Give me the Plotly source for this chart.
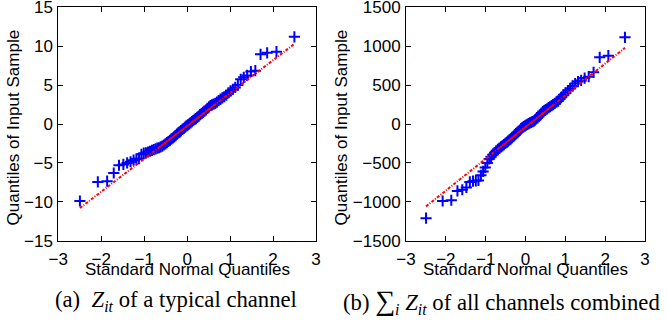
import plotly.graph_objects as go

# Theoretical standard-normal quantiles (n = 80) shared by both QQ plots
QQ_X = [-2.497, -2.080, -1.863, -1.709, -1.587, -1.485, -1.397, -1.318, -1.247, -1.181,
        -1.120, -1.064, -1.010, -0.959, -0.911, -0.865, -0.820, -0.776, -0.734, -0.694,
        -0.655, -0.616, -0.579, -0.543, -0.507, -0.471, -0.437, -0.402, -0.369, -0.335,
        -0.302, -0.270, -0.237, -0.205, -0.174, -0.142, -0.110, -0.078, -0.047, -0.016,
        0.016, 0.047, 0.078, 0.110, 0.142, 0.174, 0.205, 0.237, 0.270, 0.302,
        0.335, 0.369, 0.402, 0.437, 0.471, 0.507, 0.543, 0.579, 0.616, 0.655,
        0.694, 0.734, 0.776, 0.820, 0.865, 0.911, 0.959, 1.010, 1.064, 1.120,
        1.181, 1.247, 1.318, 1.397, 1.485, 1.587, 1.709, 1.863, 2.080, 2.497]

# (a) Z_it of a typical channel: sorted sample values
LEFT_Y = [-9.9, -7.45, -7.35, -6.3, -5.3, -5.2, -5.0, -4.85, -4.65, -4.5,
          -4.45, -3.9, -3.75, -3.7, -3.6, -3.5, -3.4, -3.3, -3.2, -3.1,
          -3.05, -2.95, -2.85, -2.7, -2.55, -2.4, -2.25, -2.1, -1.95, -1.8,
          -1.65, -1.5, -1.3, -1.15, -1.0, -0.85, -0.7, -0.55, -0.4, -0.25,
          -0.1, 0.0, 0.15, 0.3, 0.45, 0.6, 0.7, 0.85, 1.0, 1.2,
          1.35, 1.5, 1.65, 1.8, 2.0, 2.2, 2.35, 2.45, 2.55, 2.65,
          2.8, 3.0, 3.2, 3.35, 3.5, 3.7, 4.0, 4.25, 4.45, 4.7,
          5.0, 5.75, 6.0, 6.25, 6.75, 6.85, 8.95, 9.15, 9.3, 11.2]

# (b) sum_i Z_it of all channels combined: sorted sample values
RIGHT_Y = [-1210, -990, -980, -860, -845, -815, -745, -735, -730, -725,
           -660, -610, -560, -500, -450, -420, -395, -370, -345, -325,
           -310, -295, -280, -265, -250, -235, -220, -205, -190, -175,
           -160, -140, -125, -110, -95, -80, -60, -45, -35, -25,
           -15, -5, 5, 15, 22, 30, 38, 50, 65, 80,
           95, 115, 140, 160, 172, 185, 195, 210, 222, 235,
           248, 265, 280, 295, 320, 350, 375, 400, 430, 455,
           490, 520, 545, 560, 590, 608, 665, 857, 878, 1114]

# Reference lines (through the quartiles, extended to the data range)
FIT_X = [-2.497, -0.674, 0.674, 2.497]
LEFT_FIT_Y = [-10.8, -3.10, 2.60, 10.3]
RIGHT_FIT_Y = [-1059, -315, 235, 979]

X_TICKS = [-3, -2, -1, 0, 1, 2, 3]
LEFT_Y_TICKS = [-15, -10, -5, 0, 5, 10, 15]
RIGHT_Y_TICKS = [-1500, -1000, -500, 0, 500, 1000, 1500]

W, H = 667, 322
def fx(px):
    return px / W
def fy(py):
    return 1 - py / H

BLUE = '#0000ff'
RED = '#ff0000'
SANS = 'Arial, Liberation Sans, Helvetica, sans-serif'
SERIF = 'Times New Roman, Liberation Serif, Times, serif'

fig = go.Figure()

for xa, ya, ys, fit in [('x', 'y', LEFT_Y, LEFT_FIT_Y), ('x2', 'y2', RIGHT_Y, RIGHT_FIT_Y)]:
    fig.add_trace(go.Scatter(
        x=QQ_X, y=ys, mode='markers', xaxis=xa, yaxis=ya,
        marker=dict(symbol='cross-thin', size=8, line=dict(color=BLUE, width=2), color=BLUE),
        showlegend=False, hoverinfo='skip'))
    fig.add_trace(go.Scatter(
        x=FIT_X, y=fit, mode='lines', xaxis=xa, yaxis=ya,
        line=dict(color=RED, width=2, dash='3px,1.5px,1px,1.5px'),
        showlegend=False, hoverinfo='skip'))
    fig.add_trace(go.Scatter(
        x=FIT_X[1:3], y=fit[1:3], mode='lines', xaxis=xa, yaxis=ya,
        line=dict(color=RED, width=1.5),
        showlegend=False, hoverinfo='skip'))

axis_common = dict(showline=True, linecolor='black', linewidth=1, mirror='ticks',
                   ticks='inside', ticklen=5, tickcolor='black', tickwidth=1,
                   showgrid=False, zeroline=False, automargin=False,
                   ticklabeloverflow='allow',
                   tickfont=dict(family=SANS, size=17, color='black'))

ytop, ybot = 7.3, 240.7
fig.update_layout(
    width=W, height=H,
    margin=dict(l=0, r=0, t=0, b=0, autoexpand=False),
    paper_bgcolor='white', plot_bgcolor='white',
    xaxis=dict(domain=[fx(58.3), fx(316)], range=[-3.0001, 3.0001], tickvals=X_TICKS,
               anchor='y', ticklabelstandoff=3, **axis_common),
    yaxis=dict(domain=[fy(ybot), fy(ytop)], range=[-15.001, 15.001], tickvals=LEFT_Y_TICKS,
               anchor='x', ticklabelstandoff=1, **axis_common),
    xaxis2=dict(domain=[fx(406), fx(645)], range=[-3.0001, 3.0001], tickvals=X_TICKS,
                anchor='y2', ticklabelstandoff=3, **axis_common),
    yaxis2=dict(domain=[fy(ybot), fy(ytop)], range=[-1500.1, 1500.1], tickvals=RIGHT_Y_TICKS,
                anchor='x2', ticklabelstandoff=1, **axis_common),
)

ann = []
title_font = dict(family=SANS, size=17, color='black')
for cx, cyx in [(187, 13.5), (525.5, 341.5)]:
    ann.append(dict(text='Standard Normal Quantiles', x=fx(cx), y=fy(269), xref='paper', yref='paper',
                    xanchor='center', yanchor='middle', showarrow=False, font=title_font))
    ann.append(dict(text='Quantiles of Input Sample', x=fx(cyx), y=fy(128), xref='paper', yref='paper',
                    xanchor='center', yanchor='middle', showarrow=False, textangle=-90, font=title_font))

cap_font = dict(family=SERIF, size=22.7, color='black')
ann.append(dict(text='(a)  <i>Z</i><sub><i>it</i></sub> of a typical channel',
                x=fx(53), y=fy(301), xref='paper', yref='paper', xanchor='left', yanchor='middle',
                showarrow=False, font=cap_font))
ann.append(dict(text='(b) <span style="font-size:28px">∑</span><sub><i>i</i></sub> <i>Z</i><sub><i>it</i></sub> of all channels combined',
                x=fx(341), y=fy(301), xref='paper', yref='paper', xanchor='left', yanchor='middle',
                showarrow=False, font=cap_font))
fig.update_layout(annotations=ann)

fig.write_html('out.html',
               config={'displayModeBar': False},
               post_script="document.body.style.margin='0';document.body.style.padding='0';")
